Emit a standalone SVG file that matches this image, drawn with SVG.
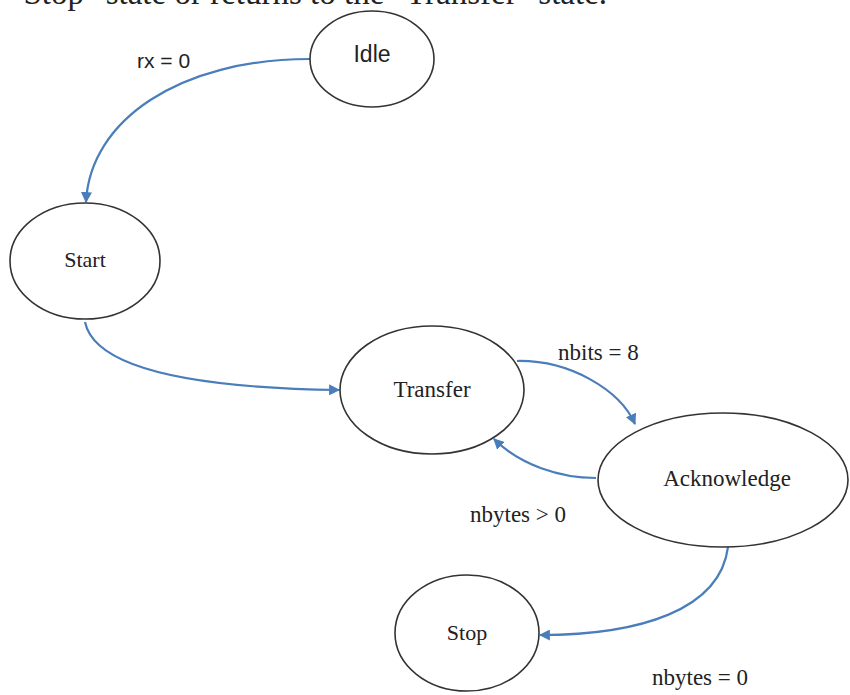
<svg xmlns="http://www.w3.org/2000/svg" width="850" height="695" viewBox="0 0 850 695">
<style>
.node{fill:#fff;stroke:#333;stroke-width:1.6}
.serif{font-family:"Liberation Serif","Times New Roman",serif;fill:#222}
.sans{font-family:"Liberation Sans",Arial,sans-serif;fill:#222}
.edge{fill:none;stroke:#4a7ebb;stroke-width:2.2}
</style>
<defs>
<marker id="arr" viewBox="0 0 10 10" refX="9" refY="5" markerWidth="5" markerHeight="5" orient="auto" markerUnits="strokeWidth">
<path d="M0,0 L10,5 L0,10 z" fill="#4a7ebb"/>
</marker>
</defs>
<rect width="850" height="695" fill="#fff"/>
<text class="serif" x="10" y="4" font-size="33">"Stop" state or returns to the "Transfer" state.</text>
<g id="connectors">
<path class="edge" d="M310,59 C180,59 90,120 86,202" marker-end="url(#arr)"/>
<path class="edge" d="M85,322 C95,370 200,388 339,390" marker-end="url(#arr)"/>
<path class="edge" d="M517,361 C570,360 620,390 635,424" marker-end="url(#arr)"/>
<path class="edge" d="M596,478 C560,478 520,465 494,439" marker-end="url(#arr)"/>
<path class="edge" d="M728,547 C720,610 640,635 540,635" marker-end="url(#arr)"/>
<text class="sans" x="137" y="68" font-size="21">rx = 0</text>
<text class="serif" x="558" y="360" font-size="23">nbits = 8</text>
<text class="serif" x="470" y="522" font-size="23">nbytes &gt; 0</text>
<text class="serif" x="652" y="685" font-size="23">nbytes = 0</text>
</g>
<g id="idle">
<ellipse class="node" cx="372" cy="59" rx="62" ry="48"/>
<text class="sans" x="372" y="62" font-size="23" text-anchor="middle">Idle</text>
</g>
<g id="start">
<ellipse class="node" cx="85" cy="261" rx="75" ry="58"/>
<text class="serif" x="85" y="267" font-size="22" text-anchor="middle">Start</text>
</g>
<g id="transfer">
<ellipse class="node" cx="432" cy="390" rx="92" ry="64"/>
<text class="serif" x="432" y="397" font-size="23" text-anchor="middle">Transfer</text>
</g>
<g id="acknowledge">
<ellipse class="node" cx="723" cy="480" rx="125" ry="67"/>
<text class="serif" x="727" y="486" font-size="23" text-anchor="middle">Acknowledge</text>
</g>
<g id="stop">
<ellipse class="node" cx="467" cy="633" rx="72" ry="58"/>
<text class="serif" x="467" y="640" font-size="22" text-anchor="middle">Stop</text>
</g>
</svg>
